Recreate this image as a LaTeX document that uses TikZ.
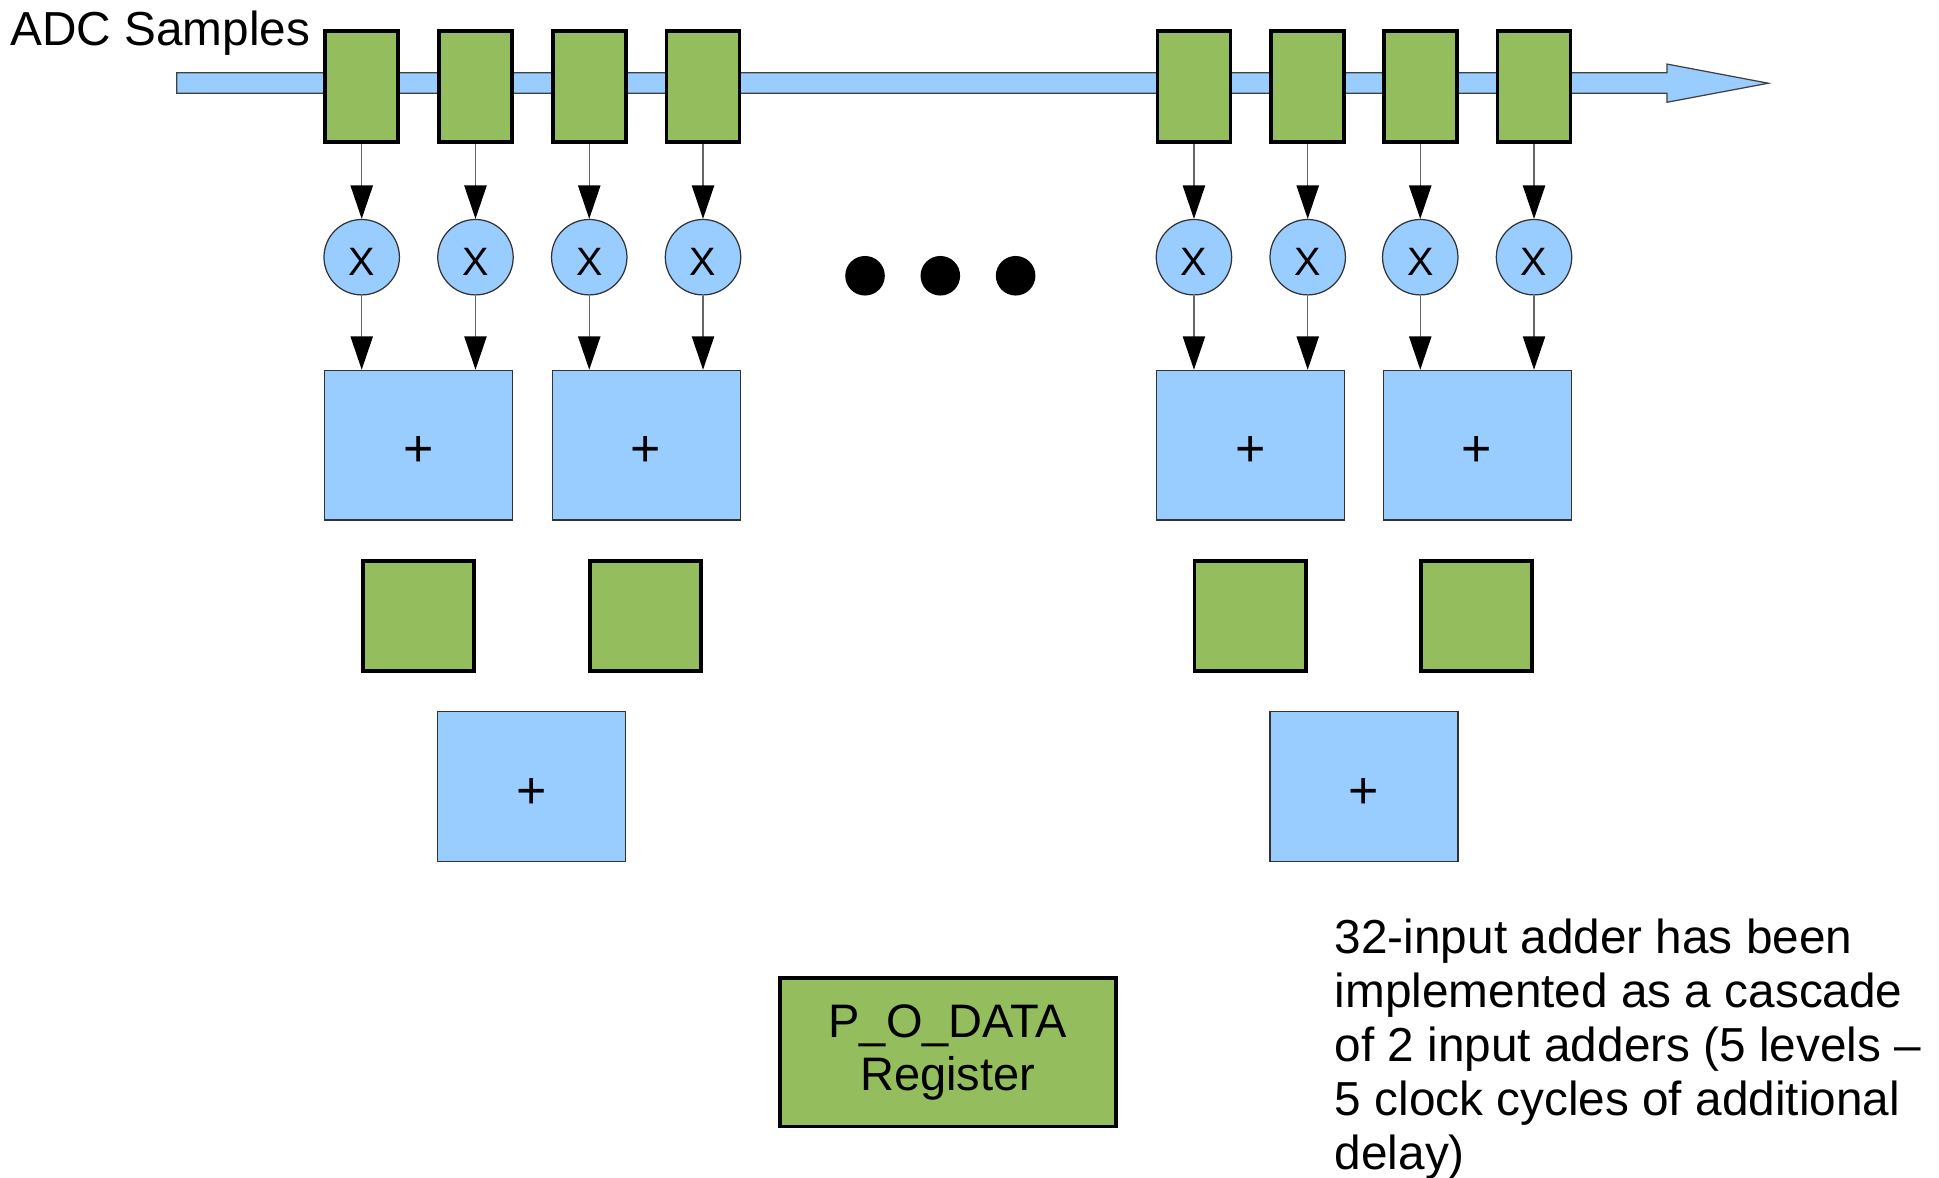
\documentclass[tikz,border=0pt]{standalone}
\usepackage{fontspec}
\setmainfont{Liberation Sans}
\usetikzlibrary{arrows.meta}
\definecolor{regGreen}{HTML}{94BD5E}
\definecolor{opBlue}{HTML}{99CCFF}
\begin{document}
\begin{tikzpicture}[x=0.5pt,y=-0.5pt,
  reg/.style={rectangle, draw=black, line width=1.5pt, fill=regGreen, minimum width=29.5pt, minimum height=44.75pt, inner sep=0pt},
  sq/.style={reg, minimum width=45pt, minimum height=44.5pt},
  outreg/.style={reg, minimum width=136pt, minimum height=60pt, align=center, font=\fontsize{19}{21.5}\selectfont},
  mult/.style={circle, draw=black!80, line width=0.5pt, fill=opBlue, minimum size=30.5pt, inner sep=0pt, text height=14.5pt, text depth=0pt, font=\fontsize{16}{18}\selectfont},
  adder/.style={rectangle, draw=black!80, line width=0.5pt, fill=opBlue, minimum width=76pt, minimum height=60.5pt, inner sep=0pt, text height=17.6pt, text depth=0pt, font=\fontsize{21}{24}\selectfont},
  dot/.style={circle, fill=black, minimum size=16pt, inner sep=0pt},
  conn/.style={draw=black!60, line width=0.6pt, -{Triangle[length=13.5pt,width=9pt,color=black]}},
  bus/.style={draw=black!75, line width=0.5pt, fill=opBlue},
  lbl/.style={inner sep=0pt, font=\fontsize{19.3}{21.75}\selectfont}
]
\useasboundingbox (0,0) rectangle (1568,952);
% sample bus arrow
\path[bus] (143,58.8) -- (1348,58.8) -- (1348,51.8) -- (1430,67.3) -- (1348,82.7) -- (1348,75.5) -- (143,75.5) -- cycle;
\node[lbl, anchor=base west] (adc) at (8,36.4) {ADC Samples};
% first-level adders
\node[adder] (a1) at (338.5,360) {+};
\node[adder] (a2) at (522.5,360) {+};
\node[adder] (a3) at (1011.5,360) {+};
\node[adder] (a4) at (1194.5,360) {+};
% registers, multipliers, connectors
\foreach \xx/\ad [count=\i] in {292.5/a1,384.5/a1,476.5/a2,568.5/a2,965.5/a3,1057.5/a3,1148.5/a4,1240.5/a4}{
  \node[reg] (r\i) at (\xx,70) {};
  \node[mult] (m\i) at (\xx,208) {X};
  \draw[conn] (r\i) -- (m\i);
  \draw[conn] (m\i) -- (m\i |- \ad.north);
}
% dots
\node[dot] (d1) at (699.5,223) {};
\node[dot] (d2) at (760.4,223) {};
\node[dot] (d3) at (821.3,223) {};
% pipeline registers
\node[sq] (s1) at (338.5,498) {};
\node[sq] (s2) at (522,498) {};
\node[sq] (s3) at (1011,498) {};
\node[sq] (s4) at (1194,498) {};
% second-level adders
\node[adder] (b1) at (430,636) {+};
\node[adder] (b2) at (1103,636) {+};
% output register
\node[outreg] (out) at (766.5,851) {P\_O\_DATA\\Register};
% note
\node[lbl, anchor=north west, align=left] (note) at (1079,743) {32-input adder has been\\implemented as a cascade\\of 2 input adders (5 levels –\\5 clock cycles of additional\\delay)};
\end{tikzpicture}
\end{document}
